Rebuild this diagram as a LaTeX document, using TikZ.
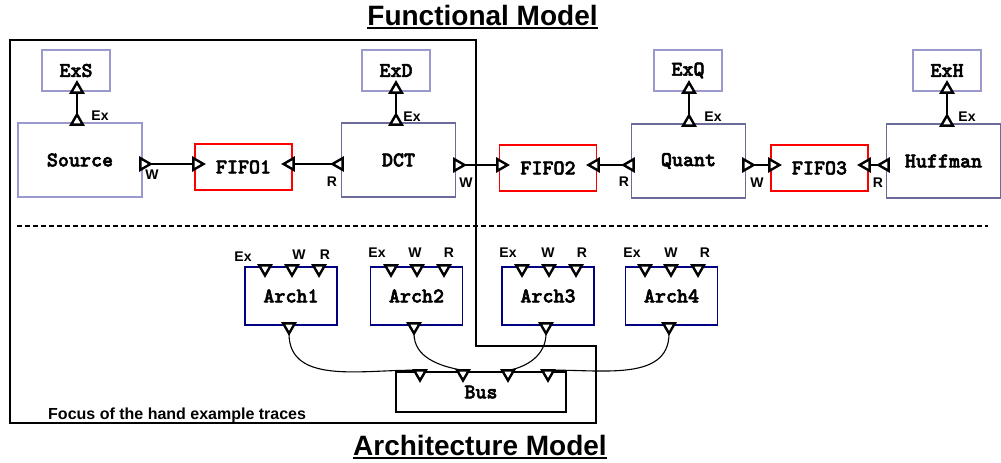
\documentclass[tikz,border=0pt]{standalone}
\usepackage{fontspec}
\setmainfont{Liberation Sans}
\newfontfamily\monobold{lmmonolt10-bold}[Extension=.otf, FakeBold=2.5]
\usetikzlibrary{shapes.geometric}
\definecolor{lightbox}{HTML}{9999CC}
\definecolor{midbox}{HTML}{6B6B9B}
\definecolor{navybox}{HTML}{000080}
\newcommand{\boxfnt}{\monobold\fontsize{21}{23}\selectfont}
\newcommand{\lblfnt}{\bfseries\fontsize{14}{16}\selectfont}
\tikzset{
  box/.style={draw, line width=1.6pt, inner sep=0pt, font=\boxfnt},
  exbox/.style={box, draw=lightbox, minimum width=68pt, minimum height=41pt},
  srcbox/.style={box, draw=lightbox, minimum width=124pt, minimum height=74pt},
  funbox/.style={box, draw=midbox, minimum width=114pt, minimum height=74pt},
  fifobox/.style={box, draw=red, line width=1.8pt, minimum width=97pt, minimum height=46pt},
  archbox/.style={box, draw=navybox, minimum width=92pt, minimum height=58pt},
  busbox/.style={box, draw=black, minimum width=170pt, minimum height=40pt},
  port/.style={regular polygon, regular polygon sides=3, draw=black, fill=white,
    line width=2.4pt, minimum size=13.5pt, inner sep=0pt, outer sep=0pt},
  pup/.style={port, yshift=1.75pt},
  pdown/.style={port, shape border rotate=180, yshift=-1.75pt},
  pright/.style={port, shape border rotate=-90, xshift=1.75pt},
  pleft/.style={port, shape border rotate=90, xshift=-1.75pt},
  lbl/.style={font=\lblfnt, inner sep=0pt},
  wire/.style={line width=1.3pt, draw=black},
  title/.style={font=\bfseries\fontsize{28}{30}\selectfont, inner sep=0pt, anchor=base},
  uline/.style={line width=2pt},
}
\begin{document}
\begin{tikzpicture}[x=1pt,y=1pt]
\useasboundingbox (0,0) rectangle (1001,-463);

% titles
\node[title] (t1) at (482.5,-25) {Functional Model};
\draw[uline] ([yshift=-3pt]t1.base west) -- ([yshift=-3pt]t1.base east);
\node[title] (t2) at (480,-455) {Architecture Model};
\draw[uline] ([yshift=-3pt]t2.base west) -- ([yshift=-3pt]t2.base east);

% focus region
\draw[line width=2.5pt] (10,-40) -- (476,-40) -- (476,-346) -- (596,-346)
  -- (596,-423) -- (10,-423) -- cycle;
\node[font=\bfseries\fontsize{16}{18}\selectfont, inner sep=0pt, anchor=base west]
  (focus) at (48,-419) {Focus of the hand example traces};

% separator
\draw[line width=1.2pt, dash pattern=on 5pt off 3pt] (17,-226) -- (988,-226);

% functional boxes
\node[exbox] (exs) at (76,-70.5) {ExS};
\node[exbox] (exd) at (396,-70.5) {ExD};
\node[exbox] (exq) at (688,-70.5) {ExQ};
\node[exbox] (exh) at (947,-70.5) {ExH};
\node[srcbox] (src) at (80,-160) {Source};
\node[funbox] (dct) at (398.5,-160) {DCT};
\node[funbox] (qnt) at (688.5,-161) {Quant};
\node[funbox] (huf) at (943.5,-161) {Huffman};
\node[fifobox] (f1) at (243.5,-167) {FIFO1};
\node[fifobox] (f2) at (548,-168) {FIFO2};
\node[fifobox] (f3) at (819.5,-168) {FIFO3};

% architecture boxes
\node[archbox] (a1) at (291,-296) {Arch1};
\node[archbox] (a2) at (416.5,-296) {Arch2};
\node[archbox] (a3) at (548,-296) {Arch3};
\node[archbox] (a4) at (671.5,-296) {Arch4};
\node[busbox] (bus) at (481,-392) {Bus};

% Ex ports
\node[pup] (srcEx) at (77,-123) {};
\node[pup] (exsP) at (77,-91) {};
\node[pup] (dctEx) at (396,-123) {};
\node[pup] (exdP) at (396,-91) {};
\node[pup] (qntEx) at (689,-124) {};
\node[pup] (exqP) at (689,-91) {};
\node[pup] (hufEx) at (947,-124) {};
\node[pup] (exhP) at (947,-91) {};

% data ports
\node[pright] (srcW) at (142,-164) {};
\node[pright] (f1in) at (195,-164) {};
\node[pleft] (f1out) at (292,-164) {};
\node[pleft] (dctR) at (341,-164) {};
\node[pright] (dctW) at (456,-165) {};
\node[pright] (f2in) at (499,-165) {};
\node[pleft] (f2out) at (597,-165) {};
\node[pleft] (qntR) at (632,-165) {};
\node[pright] (qntW) at (745,-165) {};
\node[pright] (f3in) at (771,-165) {};
\node[pleft] (f3out) at (868,-165) {};
\node[pleft] (hufR) at (887,-165) {};

% connectors functional
\draw[wire] (srcEx.north) -- (exsP.south);
\draw[wire] (dctEx.north) -- (exdP.south);
\draw[wire] (qntEx.north) -- (exqP.south);
\draw[wire] (hufEx.north) -- (exhP.south);
\draw[wire] (srcW.east) -- (f1in.west);
\draw[wire] (f1out.east) -- (dctR.west);
\draw[wire] (dctW.east) -- (f2in.west);
\draw[wire] (f2out.east) -- (qntR.west);
\draw[wire] (qntW.east) -- (f3in.west);
\draw[wire] (f3out.east) -- (hufR.west);

% labels functional
\node[lbl] (lsEx) at (100,-116) {Ex};
\node[lbl] (ldEx) at (412,-117) {Ex};
\node[lbl] (lqEx) at (713,-117) {Ex};
\node[lbl] (lhEx) at (967,-117) {Ex};
\node[lbl] (lsW) at (152,-175) {W};
\node[lbl] (ldR) at (332,-182) {R};
\node[lbl] (ldW) at (466,-183) {W};
\node[lbl] (lqR) at (624,-182) {R};
\node[lbl] (lqW) at (757,-183) {W};
\node[lbl] (lhR) at (878,-183) {R};

% arch top ports
\node[pdown] (a1e) at (265,-267) {};
\node[pdown] (a1w) at (292,-267) {};
\node[pdown] (a1r) at (319,-267) {};
\node[pdown] (a2e) at (391,-267) {};
\node[pdown] (a2w) at (417,-267) {};
\node[pdown] (a2r) at (444,-267) {};
\node[pdown] (a3e) at (522,-267) {};
\node[pdown] (a3w) at (549,-267) {};
\node[pdown] (a3r) at (576,-267) {};
\node[pdown] (a4e) at (645,-267) {};
\node[pdown] (a4w) at (671,-267) {};
\node[pdown] (a4r) at (698,-267) {};

% arch bottom ports
\node[pdown] (a1b) at (289,-325) {};
\node[pdown] (a2b) at (414,-325) {};
\node[pdown] (a3b) at (546,-325) {};
\node[pdown] (a4b) at (669,-325) {};

% bus ports
\node[pdown] (b1) at (420,-372) {};
\node[pdown] (b2) at (463,-372) {};
\node[pdown] (b3) at (508,-372) {};
\node[pdown] (b4) at (548,-372) {};

% bus connectors
\draw[wire, line width=1.1pt] (a1b.south) to[out=-90, in=178] (b1.north);
\draw[wire, line width=1.1pt] (a2b.south) to[out=-90, in=170] (b2.north);
\draw[wire, line width=1.1pt] (a3b.south) to[out=-90, in=10] (b3.north);
\draw[wire, line width=1.1pt] (a4b.south) to[out=-90, in=2] (b4.north);

% arch labels
\node[lbl] (l1e) at (243,-257) {Ex};
\node[lbl] (l1w) at (299,-255) {W};
\node[lbl] (l1r) at (325,-255) {R};
\node[lbl] (l2e) at (377,-253) {Ex};
\node[lbl] (l2w) at (415,-253) {W};
\node[lbl] (l2r) at (449,-253) {R};
\node[lbl] (l3e) at (508,-253) {Ex};
\node[lbl] (l3w) at (548,-253) {W};
\node[lbl] (l3r) at (582,-253) {R};
\node[lbl] (l4e) at (632,-253) {Ex};
\node[lbl] (l4w) at (671,-253) {W};
\node[lbl] (l4r) at (705,-253) {R};
\end{tikzpicture}
\end{document}
